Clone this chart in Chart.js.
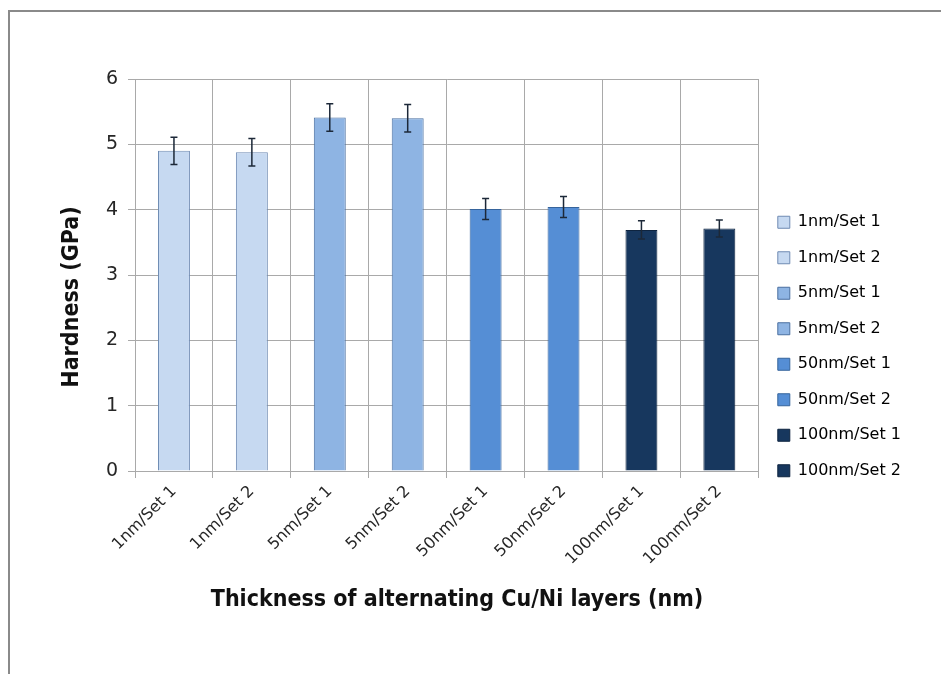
<!DOCTYPE html>
<html>
<head>
<meta charset="utf-8">
<style>
  html, body { margin:0; padding:0; background:#fff; }
  #wrap { position:relative; width:941px; height:674px; overflow:hidden; }
  #frame { position:absolute; left:8px; top:10px; width:1000px; height:800px;
           border-top:2px solid #8a8a8a; border-left:2px solid #8a8a8a; }
  #c { position:absolute; left:0; top:0; }
</style>
</head>
<body>
<div id="wrap">
  <div id="frame"></div>
  <canvas id="c" width="941" height="674"></canvas>
</div>
<script src="https://cdn.jsdelivr.net/npm/chart.js@4/dist/chart.umd.min.js"></script>
<script>
// ── Data ─────────────────────────────────────────────────────
const CATEGORIES = ['1nm/Set 1','1nm/Set 2','5nm/Set 1','5nm/Set 2',
                    '50nm/Set 1','50nm/Set 2','100nm/Set 1','100nm/Set 2'];
const HARDNESS   = [4.90, 4.88, 5.41, 5.40, 4.01, 4.04, 3.69, 3.71];
const ERRORS     = [0.21, 0.21, 0.21, 0.21, 0.16, 0.16, 0.14, 0.13];
const Y_TICKS    = [0, 1, 2, 3, 4, 5, 6];

// ── Colours ──────────────────────────────────────────────────
const FILL   = ['#c6d9f1','#c6d9f1','#8eb4e3','#8eb4e3','#558ed5','#558ed5','#17375e','#17375e'];
const EDGE   = ['#6f8bb3','#6f8bb3','#4a6fa0','#4a6fa0','#36649c','#36649c','#0e2440','#0e2440'];
const GRID   = '#a9a9a9';
const TEXT   = '#262626';

const TICK_FONT  = "'DejaVu Sans', sans-serif";
const TITLE_FONT = "'Liberation Sans Narrow', 'DejaVu Sans Condensed', 'Arial Narrow', sans-serif";

// ── Error bars ───────────────────────────────────────────────
const errorBars = {
  id:'errorBars',
  afterDatasetsDraw(chart) {
    const ctx = chart.ctx, y = chart.scales.y;
    const meta = chart.getDatasetMeta(0);
    ctx.save();
    ctx.strokeStyle = '#1c2838';
    ctx.lineWidth = 1.5;
    meta.data.forEach((bar, i) => {
      const top = y.getPixelForValue(HARDNESS[i] + ERRORS[i]);
      const bot = y.getPixelForValue(HARDNESS[i] - ERRORS[i]);
      const x = bar.x, cap = 3.5;
      ctx.beginPath();
      ctx.moveTo(x, top); ctx.lineTo(x, bot);
      ctx.moveTo(x - cap, top); ctx.lineTo(x + cap, top);
      ctx.moveTo(x - cap, bot); ctx.lineTo(x + cap, bot);
      ctx.stroke();
    });
    ctx.restore();
  }
};

// ── Axis titles (placed like the original) ───────────────────
const axisTitles = {
  id:'axisTitles',
  afterDraw(chart) {
    const ctx = chart.ctx;
    ctx.save();
    ctx.fillStyle = '#111';
    ctx.font = `bold 23px ${TITLE_FONT}`;
    ctx.textAlign = 'center';
    ctx.textBaseline = 'middle';
    ctx.fillText('Thickness of alternating Cu/Ni layers (nm)', 457, 600);
    ctx.translate(72, 297);
    ctx.rotate(-Math.PI / 2);
    ctx.fillText('Hardness (GPa)', 0, 0);
    ctx.restore();
  }
};

new Chart(document.getElementById('c'), {
  type:'bar',
  data:{
    labels: CATEGORIES,
    datasets:[{
      label:'Hardness (GPa)',
      data: HARDNESS,
      backgroundColor: FILL,
      borderColor: EDGE,
      borderWidth: 1,
      barPercentage: 0.41,
      categoryPercentage: 1.0
    }]
  },
  options:{
    responsive:false, animation:false,
    layout:{ padding:{ top:79, bottom:60, left:0, right:30 } },
    plugins:{
      tooltip:{ enabled:false },
      legend:{
        position:'right',
        align:'center',
        labels:{
          boxWidth:12, boxHeight:12, padding:19.5,
          color:'#3a3a3a',
          font:{ family:TICK_FONT, size:16 },
          generateLabels(chart) {
            return CATEGORIES.map((name, i) => ({
              text:name, fillStyle:FILL[i], strokeStyle:EDGE[i],
              lineWidth:1, hidden:false, index:i, datasetIndex:0
            }));
          }
        }
      }
    },
    scales:{
      x:{
        grid:{ color:GRID, offset:true, tickLength:7 },
        border:{ color:GRID },
        ticks:{ color:TEXT, minRotation:45, maxRotation:45, padding:4,
                font:{ family:TICK_FONT, size:16 } },
        afterFit(s) { s.height = 143; }
      },
      y:{
        min:0, max:6,
        afterBuildTicks(s) { s.ticks = Y_TICKS.map(v => ({ value:v })); },
        grid:{ color:GRID, tickLength:7 },
        border:{ color:GRID },
        ticks:{ color:TEXT, padding:10, font:{ family:TICK_FONT, size:19 } },
        afterFit(s) { s.width = 135; }
      }
    }
  },
  plugins:[errorBars, axisTitles]
});
</script>
</body>
</html>
